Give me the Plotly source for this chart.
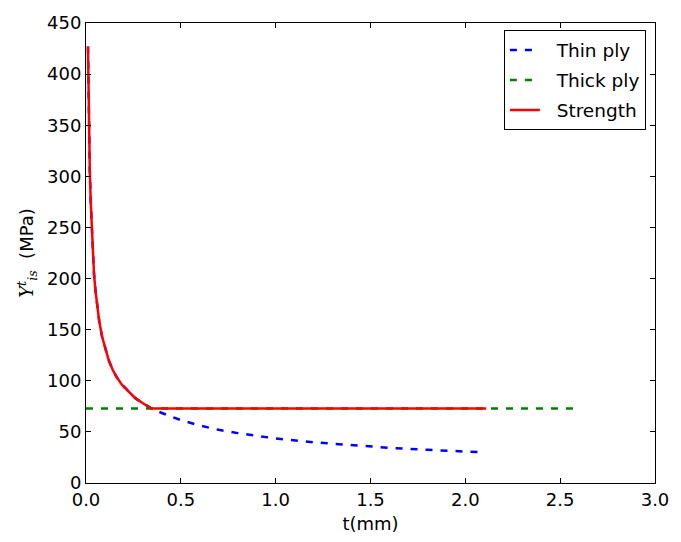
import plotly.graph_objects as go

# Values
t_thin = [0.0104, 0.012, 0.014, 0.017, 0.020, 0.025, 0.030, 0.036, 0.042, 0.050, 0.060,
          0.070, 0.085, 0.100, 0.120, 0.140, 0.160, 0.190, 0.220, 0.260, 0.300, 0.340,
          0.400, 0.500, 0.600, 0.700, 0.800, 0.900, 1.000, 1.200, 1.400, 1.600, 1.800,
          2.000, 2.070]
y_thin = [427, 398, 368, 333, 306, 275, 250, 224, 205, 188, 171,
          158, 143, 132, 120, 111, 104, 96, 90, 83, 78, 73.5,
          68.5, 61.5, 56.2, 52.0, 48.8, 46.0, 43.6, 39.8, 36.8, 34.4, 32.5,
          30.8, 30.2]

t_thick = [0.0, 2.6]
y_thick = [73, 73]

t_cross = 0.345
t_strength_end = 2.11

strength_t = [t for t in t_thin if t < t_cross] + [t_cross, t_strength_end]
strength_y = [y for t, y in zip(t_thin, y_thin) if t < t_cross] + [y_thick[0], y_thick[0]]

x_ticks = [0.0, 0.5, 1.0, 1.5, 2.0, 2.5, 3.0]
y_ticks = [0, 50, 100, 150, 200, 250, 300, 350, 400, 450]
series_names = ["Thin ply", "Thick ply", "Strength"]

FONT = "DejaVu Sans"
FS = 18
PAD = "\u00a0\u00a0"

fig = go.Figure()
fig.add_trace(go.Scatter(x=t_thin, y=y_thin, mode="lines", name=PAD + series_names[0],
                         line=dict(color="#0000ff", width=2.5, dash="7px,8px"),
                         legendgroup="a"))
fig.add_trace(go.Scatter(x=t_thick, y=y_thick, mode="lines", name=PAD + series_names[1],
                         line=dict(color="#008000", width=2.5, dash="7px,8px"),
                         legendgroup="b"))
fig.add_trace(go.Scatter(x=strength_t, y=strength_y, mode="lines", name=PAD + series_names[2],
                         line=dict(color="#ff0000", width=2.5),
                         legendgroup="c"))

axis_common = dict(showline=True, linecolor="black", linewidth=1, mirror="allticks",
                   ticks="inside", ticklen=5, tickcolor="black", tickwidth=1,
                   showgrid=False, zeroline=False,
                   tickfont=dict(family=FONT, size=FS, color="black"))

fig.update_xaxes(range=[0, 3], tickvals=x_ticks,
                 ticktext=[f"{v:.1f}" for v in x_ticks],
                 title=dict(text="t(mm)", font=dict(family=FONT, size=FS, color="black"),
                            standoff=8),
                 **axis_common)
fig.update_yaxes(range=[0, 450], tickvals=y_ticks,
                 ticktext=[str(v) for v in y_ticks],
                 title=dict(text="<span style=\"font-family:'DejaVu Serif'\"><i>Y</i><sup><i>t</i></sup><sub><i>is</i></sub></span>  (MPa)",
                            font=dict(family=FONT, size=FS, color="black"),
                            standoff=8),
                 **axis_common)

fig.update_layout(
    width=681, height=542,
    margin=dict(l=86, r=19, t=18, b=58),
    paper_bgcolor="white", plot_bgcolor="white",
    font=dict(family=FONT, size=FS, color="black"),
    legend=dict(x=0.984, y=0.984, xanchor="right", yanchor="top",
                bordercolor="black", borderwidth=1, bgcolor="white",
                font=dict(family=FONT, size=18.5, color="black"),
                itemwidth=30, tracegroupgap=3),
    showlegend=True,
)

fig.write_html("out.html")
